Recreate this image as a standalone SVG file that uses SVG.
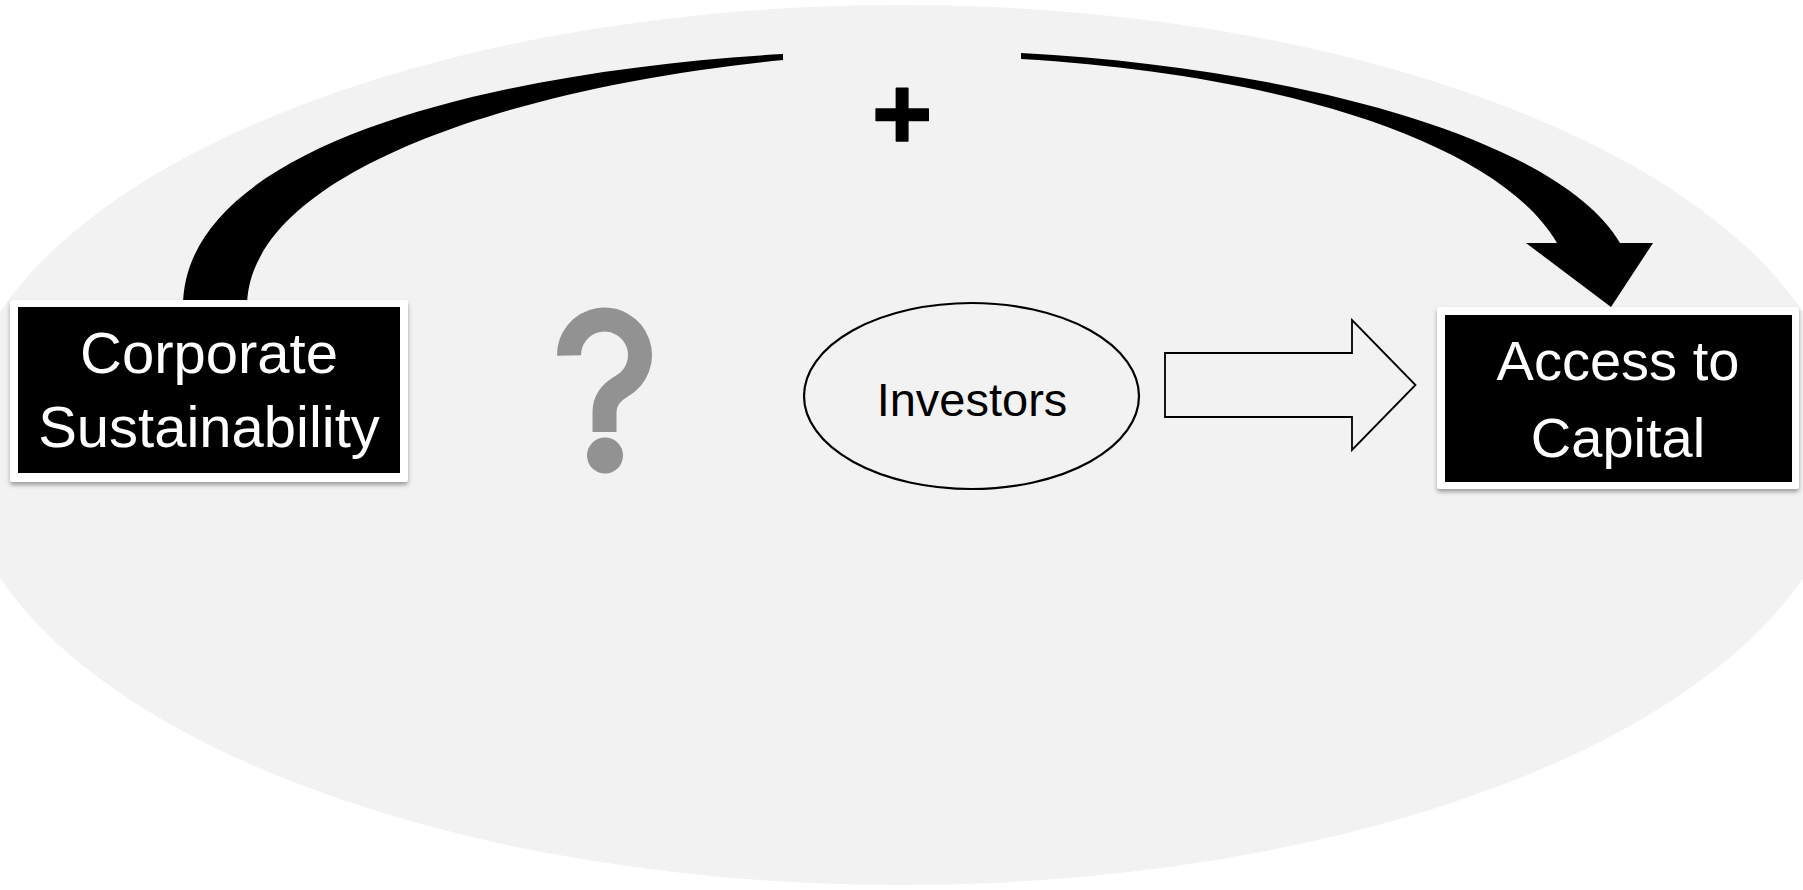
<svg xmlns="http://www.w3.org/2000/svg" width="1803" height="890" viewBox="0 0 1803 890">
  <defs>
    <filter id="shadow" x="-10%" y="-10%" width="120%" height="130%">
      <feDropShadow dx="0" dy="3" stdDeviation="2" flood-color="#000" flood-opacity="0.35"/>
    </filter>
    <style>
      .frame { fill: #ffffff; filter: url(#shadow); }
      .box { fill: #000000; }
      .boxtext { fill: #ffffff; font-family: "Liberation Sans", Arial, sans-serif; text-anchor: middle; }
      .outline { fill: none; stroke: #000000; stroke-width: 2.2; }
      .qmark { fill: none; stroke: #929292; stroke-width: 24; stroke-linejoin: round; }
    </style>
  </defs>
  <rect x="0" y="0" width="1803" height="890" fill="#ffffff"/>
  <ellipse id="background" cx="901.5" cy="445" rx="946" ry="440" fill="#f2f2f2"/>

  <g id="connectors">
    <path id="curved-arrow" fill="#000000" d="M183,307 C183,138 517,69 783,54 L783,60 C517,86 247,172 247,307 Z"/>
    <path id="curved-arrow-head" fill="#000000" d="M1021,53 C1300,68 1560,140 1620,243 L1653,243 L1611,307 L1526,243 L1557,243 C1500,145 1290,75 1021,59 Z"/>
    <polygon id="block-arrow" points="1165,353 1352,353 1352,320 1415.5,385 1352,450 1352,417 1165,417" fill="none" stroke="#000000" stroke-width="1.8" stroke-linejoin="miter"/>
  </g>

  <g id="plus-label">
    <text x="902" y="149" font-family="Liberation Sans, Arial, sans-serif" font-weight="bold" font-size="104" text-anchor="middle" fill="#000000" stroke="#000000" stroke-width="1.5" stroke-linejoin="round">+</text>
  </g>

  <g id="corporate-sustainability">
    <rect class="frame" x="10" y="300" width="398" height="182" rx="3"/>
    <rect class="box" x="18" y="307" width="382" height="166"/>
    <text class="boxtext" x="209" y="373" font-size="58">Corporate</text>
    <text class="boxtext" x="209" y="447" font-size="58">Sustainability</text>
  </g>

  <g id="question-mark">
    <path class="qmark" d="M569,355.5 A35.5,35.5 0 1 1 622,386 Q604.5,396 604.5,412 L604.5,432"/>
    <circle cx="605" cy="455.5" r="18" fill="#929292"/>
  </g>

  <g id="investors">
    <ellipse class="outline" cx="971.5" cy="396" rx="167.5" ry="93"/>
    <text x="972" y="416" font-family="Liberation Sans, Arial, sans-serif" font-size="47" text-anchor="middle" fill="#000000">Investors</text>
  </g>

  <g id="access-to-capital">
    <rect class="frame" x="1437" y="307" width="362" height="182" rx="3"/>
    <rect class="box" x="1445" y="315" width="347" height="167"/>
    <text class="boxtext" x="1618" y="380" font-size="56">Access to</text>
    <text class="boxtext" x="1618" y="457" font-size="56">Capital</text>
  </g>
</svg>
